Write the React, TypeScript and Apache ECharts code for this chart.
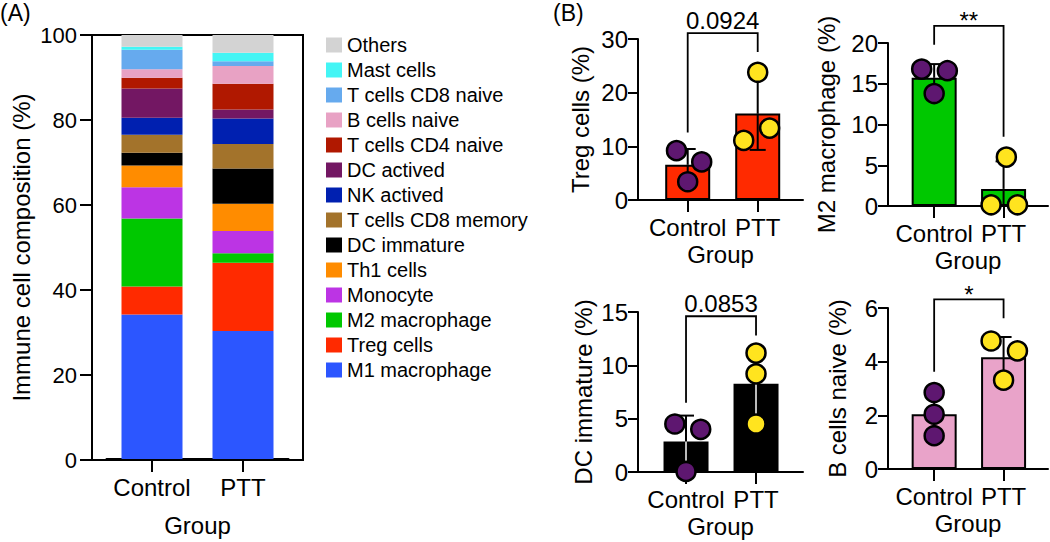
import React, { useEffect, useRef } from 'react';
import * as echarts from 'echarts';

// ---------- data ----------
const groups = ['Control', 'PTT'];

const cellTypes = [
  'M1 macrophage', 'Treg cells', 'M2 macrophage', 'Monocyte', 'Th1 cells', 'DC immature',
  'T cells CD8 memory', 'NK actived', 'DC actived', 'T cells CD4 naive', 'B cells naive',
  'T cells CD8 naive', 'Mast cells', 'Others',
];
const controlComposition = [34.1, 6.6, 16.0, 7.4, 5.1, 3.0, 4.3, 4.0, 6.9, 2.5, 2.0, 4.6, 0.7, 2.8];
const pttComposition = [30.2, 16.1, 2.2, 5.3, 6.4, 8.3, 5.8, 6.0, 2.1, 6.1, 4.2, 1.1, 2.0, 4.2];
const cellColors = [
  '#2C56FF', '#FF2A00', '#00C800', '#BC34E4', '#FF8C00', '#000000',
  '#A3732B', '#0020B0', '#731763', '#B01800', '#E8A2C4',
  '#66AAEE', '#44F5F5', '#D3D3D3',
];
const compositionTicks = { max: 100, interval: 20 };

const panelTitles = ['Treg cells (%)', 'M2 macrophage (%)', 'DC immature (%)', 'B cells naive (%)'];
const tregControl = [9.2, 7.1, 3.4];
const tregPTT = [23.8, 11.1, 13.4];
const m2Control = [16.8, 16.6, 13.8];
const m2PTT = [6.0, 0.15, 0.15];
const dcControl = [4.5, 4.0, 0.05];
const dcPTT = [11.15, 9.2, 4.5];
const bControl = [2.85, 2.04, 1.24];
const bPTT = [4.77, 4.4, 3.31];
const panelMax = [30, 20, 15, 6];
const panelInterval = [10, 5, 5, 2];
const pLabels = ['0.0924', '**', '0.0853', '*'];
// bracket: [top, left leg end, right leg end] in axis units
const bracketLevels = [
  [31.1, 12.6, 27.6],
  [22.1, 19.8, 8.5],
  [14.6, 6.5, 12.8],
  [6.32, 3.62, 5.62],
];

// ---------- styles / layout ----------
const panelBarColors = ['#FF2A00', '#00C800', '#000000', '#E9A3C9'];
const lowerErrColors = ['#000', '#000', '#BBBBBB', '#000'];
const controlDot = '#5E1770';
const pttDot = '#FFE41F';
const jitterControl = [
  [-0.16, 0.2, 0],
  [-0.18, 0.19, 0],
  [-0.16, 0.21, 0],
  [0, 0, 0],
];
const jitterPTT = [
  [0, -0.2, 0.17],
  [0.04, -0.18, 0.2],
  [0, 0, 0],
  [-0.18, 0.2, 0],
];
const panelLayouts = [
  { left: 638, top: 39, width: 165, height: 161, min: 0.29, max: 2.647, nameGap: 46 },
  { left: 888, top: 43, width: 160, height: 163, min: 0.335, max: 2.64, nameGap: 50 },
  { left: 638, top: 312, width: 165, height: 160, min: 0.314, max: 2.671, nameGap: 43 },
  { left: 888, top: 308, width: 160, height: 161, min: 0.335, max: 2.64, nameGap: 39 },
];

const FONT = '"Liberation Sans", Arial, Helvetica, sans-serif';

const mean = (a: number[]) => a.reduce((s, v) => s + v, 0) / a.length;
const sd = (a: number[]) => {
  const m = mean(a);
  return Math.sqrt(a.reduce((s, v) => s + (v - m) * (v - m), 0) / (a.length - 1));
};

function axisCommon(fontSize: number) {
  return {
    axisLine: { show: true, onZero: false, lineStyle: { color: '#000', width: 2 } },
    axisTick: { show: true, lineStyle: { color: '#000', width: 2 } },
    axisLabel: { color: '#000', fontSize, fontFamily: FONT },
    splitLine: { show: false },
    nameTextStyle: { color: '#000', fontSize: 24, fontFamily: FONT },
  };
}

function buildOption() {
  const grids: any[] = [];
  const xAxes: any[] = [];
  const yAxes: any[] = [];
  const series: any[] = [];

  // Panel A: grid 0 holds the stacked bars, grid 1 is the framed axis box
  grids.push({ left: 106.5, top: 35, width: 182, height: 425 });
  grids.push({ left: 92, top: 35, width: 211, height: 425, show: true, borderColor: '#000', borderWidth: 2, backgroundColor: 'transparent' });
  const cA = axisCommon(22);
  xAxes.push({
    gridIndex: 0, type: 'category', data: groups, boundaryGap: true,
    ...cA,
    axisTick: { ...cA.axisTick, length: 13, alignWithLabel: true, interval: 0 },
    axisLabel: { ...cA.axisLabel, fontSize: 24, margin: 16, interval: 0 },
    name: 'Group', nameLocation: 'middle', nameGap: 54,
  });
  yAxes.push({ gridIndex: 0, type: 'value', min: 0, max: compositionTicks.max, show: false, splitLine: { show: false } });
  xAxes.push({ gridIndex: 1, type: 'value', min: 0, max: 1, show: false, splitLine: { show: false } });
  yAxes.push({
    gridIndex: 1, type: 'value', min: 0, max: compositionTicks.max, interval: compositionTicks.interval,
    ...cA,
    axisTick: { ...cA.axisTick, length: 12 },
    axisLabel: { ...cA.axisLabel, margin: 15 },
    name: 'Immune cell composition (%)', nameLocation: 'middle', nameGap: 59,
  });
  cellTypes.forEach((name, i) => {
    series.push({
      type: 'bar', name, stack: 'composition', xAxisIndex: 0, yAxisIndex: 0,
      barWidth: 61,
      itemStyle: { color: cellColors[i] },
      data: [controlComposition[i], pttComposition[i]],
    });
  });

  // Panel B
  const controls = [tregControl, m2Control, dcControl, bControl];
  const ptts = [tregPTT, m2PTT, dcPTT, bPTT];
  panelLayouts.forEach((L, p) => {
    const gi = p + 2;
    grids.push({ left: L.left, top: L.top, width: L.width, height: L.height });
    const c = axisCommon(24);
    xAxes.push({
      gridIndex: gi, type: 'value', min: L.min, max: L.max,
      ...c,
      axisTick: { ...c.axisTick, length: 12, customValues: [1, 2] },
      axisLabel: { ...c.axisLabel, margin: 15, customValues: [1, 2], formatter: (v: number) => groups[Math.round(v) - 1] },
      name: 'Group', nameLocation: 'middle', nameGap: 42,
    });
    yAxes.push({
      gridIndex: gi, type: 'value', min: 0, max: panelMax[p], interval: panelInterval[p],
      ...c,
      axisTick: { ...c.axisTick, length: 10 },
      axisLabel: { ...c.axisLabel, margin: 10 },
      name: panelTitles[p], nameLocation: 'middle', nameGap: L.nameGap,
    });
    const ctrl = controls[p];
    const ptt = ptts[p];
    series.push({
      type: 'bar', xAxisIndex: gi, yAxisIndex: gi, barWidth: 45, z: 2,
      itemStyle: { color: panelBarColors[p], borderColor: '#000', borderWidth: 2 },
      data: [[1, mean(ctrl)], [2, mean(ptt)]],
    });
    const lowerCol = lowerErrColors[p];
    series.push({
      type: 'custom', xAxisIndex: gi, yAxisIndex: gi, z: 3, clip: false, silent: true,
      data: [[1, mean(ctrl), sd(ctrl)], [2, mean(ptt), sd(ptt)]],
      renderItem: (_params: any, api: any) => {
        const x = api.value(0), m = api.value(1), s = api.value(2);
        const hi = api.coord([x, m + s]);
        const mid = api.coord([x, m]);
        const lo = api.coord([x, Math.max(0, m - s)]);
        const cap = 8;
        return {
          type: 'group',
          children: [
            { type: 'line', shape: { x1: hi[0], y1: hi[1], x2: mid[0], y2: mid[1] }, style: { stroke: '#000', lineWidth: 2 } },
            { type: 'line', shape: { x1: hi[0] - cap, y1: hi[1], x2: hi[0] + cap, y2: hi[1] }, style: { stroke: '#000', lineWidth: 2 } },
            { type: 'line', shape: { x1: mid[0], y1: mid[1], x2: lo[0], y2: lo[1] }, style: { stroke: lowerCol, lineWidth: 2 } },
            { type: 'line', shape: { x1: lo[0] - cap, y1: lo[1], x2: lo[0] + cap, y2: lo[1] }, style: { stroke: lowerCol, lineWidth: 2 } },
          ],
        };
      },
    });
    series.push({
      type: 'scatter', xAxisIndex: gi, yAxisIndex: gi, z: 4, symbolSize: 19,
      itemStyle: { color: controlDot, borderColor: '#000', borderWidth: 2.5, opacity: 1 },
      data: ctrl.map((v, k) => [1 + jitterControl[p][k], v]),
    });
    series.push({
      type: 'scatter', xAxisIndex: gi, yAxisIndex: gi, z: 4, symbolSize: 19,
      itemStyle: { color: pttDot, borderColor: '#000', borderWidth: 2.5, opacity: 1 },
      data: ptt.map((v, k) => [2 + jitterPTT[p][k], v]),
    });
    const label = pLabels[p];
    const isStar = /^\*+$/.test(label);
    series.push({
      type: 'custom', xAxisIndex: gi, yAxisIndex: gi, z: 3, clip: false, silent: true,
      data: [[1, 2, ...bracketLevels[p]]],
      renderItem: (_params: any, api: any) => {
        const x1 = api.value(0), x2 = api.value(1), top = api.value(2), yl = api.value(3), yr = api.value(4);
        const pL = api.coord([x1, yl]);
        const pT1 = api.coord([x1, top]);
        const pT2 = api.coord([x2, top]);
        const pR = api.coord([x2, yr]);
        return {
          type: 'group',
          children: [
            { type: 'polyline', shape: { points: [pL, pT1, pT2, pR] }, style: { stroke: '#000', lineWidth: 1.8, fill: null } },
            {
              type: 'text', x: (pT1[0] + pT2[0]) / 2, y: isStar ? pT1[1] - 5 : pT1[1] - 0.5,
              style: {
                text: label, fill: '#000', fontSize: 24, fontFamily: FONT,
                align: 'center', verticalAlign: isStar ? 'middle' : 'bottom',
                textAlign: 'center', textVerticalAlign: isStar ? 'middle' : 'bottom',
              },
            },
          ],
        };
      },
    });
  });

  return {
    animation: false,
    backgroundColor: '#fff',
    textStyle: { fontFamily: FONT },
    grid: grids,
    xAxis: xAxes,
    yAxis: yAxes,
    legend: {
      orient: 'vertical', left: 321, top: 30,
      data: [...cellTypes].reverse(),
      icon: 'rect', itemWidth: 16, itemHeight: 15, itemGap: 5,
      selectedMode: false,
      textStyle: { color: '#000', fontSize: 20, lineHeight: 20, fontFamily: FONT },
    },
    graphic: [
      { type: 'text', left: 0, top: 1, style: { text: '(A)', fill: '#000', fontSize: 23, fontFamily: FONT } },
      { type: 'text', left: 553, top: 1, style: { text: '(B)', fill: '#000', fontSize: 23, fontFamily: FONT } },
    ],
    series,
  };
}

export default function App() {
  const ref = useRef<HTMLDivElement>(null);
  useEffect(() => {
    if (!ref.current) return;
    const chart = echarts.init(ref.current, undefined, { renderer: 'svg' });
    chart.setOption(buildOption() as any);
    return () => chart.dispose();
  }, []);
  return (
    <div
      ref={ref}
      style={{ position: 'absolute', left: 0, top: 0, width: 1050, height: 542, background: '#fff' }}
    />
  );
}
